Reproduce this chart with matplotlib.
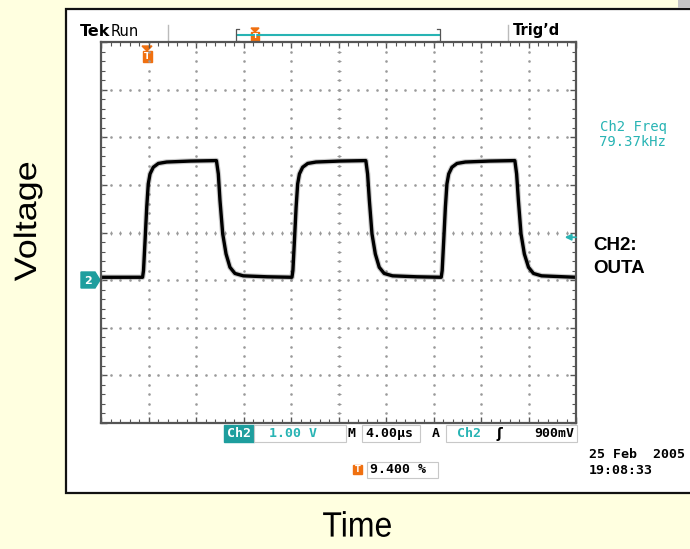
import numpy as np
from matplotlib import pyplot as plt
from matplotlib.patches import Rectangle, Polygon, PathPatch
from matplotlib.textpath import TextPath
from matplotlib.font_manager import FontProperties
from matplotlib.transforms import Affine2D

# scope settings (4 us/div, 1 V/div, 10 x 8 divisions)
t_span = 40.0

# captured trace (time in us, voltage in V)
trace_t = [0.0, 3.50, 3.58, 3.71, 3.85, 3.98, 4.13, 4.40, 4.83, 5.53, 7.50, 9.72,
           9.88, 10.02, 10.25, 10.53, 10.86, 11.28, 11.98, 14.00, 16.08,
           16.16, 16.29, 16.43, 16.56, 16.71, 16.98, 17.41, 18.11, 20.10, 22.30,
           22.45, 22.60, 22.82, 23.10, 23.43, 23.85, 24.55, 26.60, 28.65,
           28.73, 28.86, 29.00, 29.13, 29.28, 29.55, 29.98, 30.68, 32.70, 34.85,
           35.00, 35.15, 35.37, 35.65, 36.00, 36.42, 37.10, 39.00, 40.00]
trace_v = [0.06, 0.06, 0.20, 0.83, 1.53, 2.02, 2.23, 2.37, 2.45, 2.48, 2.50, 2.51,
           2.23, 1.67, 0.97, 0.55, 0.27, 0.14, 0.09, 0.07, 0.06,
           0.20, 0.83, 1.53, 2.02, 2.23, 2.37, 2.45, 2.48, 2.50, 2.51,
           2.23, 1.67, 0.97, 0.55, 0.27, 0.14, 0.09, 0.07, 0.06,
           0.20, 0.83, 1.53, 2.02, 2.23, 2.37, 2.45, 2.48, 2.50, 2.51,
           2.23, 1.67, 0.97, 0.55, 0.27, 0.14, 0.09, 0.07, 0.06]

freq_label = ["Ch2 Freq", "79.37kHz"]
ch_label = ["CH2:", "OUTA"]
date_label = ["25 Feb  2005", "19:08:33"]
volts_div = "1.00 V"
time_div = "4.00\u00b5s"
trig_level = "900mV"
trig_pos = "9.400 %"

bg = "#ffffe0"
teal = "#1e9e9e"
cyan = "#28b4b4"
orange = "#f07010"
grey = "#9a9a9a"
box_edge = "#c8c8c8"
mono = "DejaVu Sans Mono"

fig = plt.figure(figsize=(6.9, 5.49), dpi=100, facecolor=bg)

# overlay in pixel coordinates for frame and labels
ov = fig.add_axes([0, 0, 1, 1])
ov.set_xlim(0, 690)
ov.set_ylim(549, 0)
ov.axis("off")
ov.add_patch(Rectangle((66, 9), 640, 484, facecolor="white", edgecolor="#111111", lw=1.6))
ov.add_patch(Rectangle((678, -2), 14, 10, facecolor="#c4c4c4", edgecolor="none"))


def slide_text(x, y, s, em, sy, vertical=False):
    # the slide picture is a little stretched vertically, so draw the text as a path
    tp = TextPath((0, 0), s, size=em, prop=FontProperties(family="Liberation Sans"))
    bb = tp.get_extents()
    tr = Affine2D().translate(-(bb.x0 + bb.x1) / 2, -(bb.y0 + bb.y1) / 2).scale(1, -1)
    if vertical:
        tr = tr.rotate_deg(-90)
    tr = tr.scale(1, sy).translate(x, y)
    ov.add_patch(PathPatch(tr.transform_path(tp), facecolor="black", edgecolor="none"))


def scope_text(x, y, s, color="black", ha="left", size=9.5, weight="bold"):
    ov.text(x, y, s, color=color, fontsize=size, fontweight=weight, ha=ha, va="center",
            family=mono)


ov.text(80, 31, "Tek", fontsize=11.5, fontweight="bold", va="center", family="DejaVu Sans")
ov.text(111, 31, "Run", fontsize=10.5, va="center", family="DejaVu Sans")
ov.plot([168, 168], [25, 41], color="#bbbbbb", lw=1)
ov.plot([508, 508], [25, 41], color="#bbbbbb", lw=1)
ov.text(513, 31, "Trig\u2019d", fontsize=10.5, fontweight="bold", va="center", family="DejaVu Sans")

# record bar at the top
ov.plot([237, 439], [35, 35], color=cyan, lw=1.5)
ov.plot([239, 236, 236, 239], [29, 29, 41, 41], color="#555555", lw=0.9)
ov.plot([437, 440, 440, 437], [29, 29, 41, 41], color="#555555", lw=0.9)


def t_marker(x, y, s=1.0, arrow=True):
    if arrow:
        ov.add_patch(Polygon([[x - 5 * s, y - 10 * s], [x + 5 * s, y - 10 * s], [x, y - 5 * s]],
                             closed=True, color=orange))
    ov.add_patch(Rectangle((x - 4.5 * s, y - 5 * s), 9 * s, 11 * s, color=orange))
    ov.text(x, y + 0.5 * s, "T", color="white", fontsize=6.5 * s, fontweight="bold",
            ha="center", va="center")


t_marker(255, 36, 0.8)
t_marker(147, 56)

# ground marker for channel 2
ov.add_patch(Polygon([[81, 272], [95, 272], [100, 280], [95, 288], [81, 288]],
                     closed=True, color=teal))
ov.text(88, 280.5, "2", color="white", fontsize=8, fontweight="bold", ha="center", va="center")

scope_text(634, 127, freq_label[0], color=cyan, ha="center", size=10, weight="normal")
scope_text(632, 142, freq_label[1], color=cyan, ha="center", size=10, weight="normal")
ov.text(593, 245.5, ch_label[0], fontsize=13.5, fontweight="bold", va="center",
        family="Liberation Sans")
ov.text(593, 268.5, ch_label[1], fontsize=13.5, fontweight="bold", va="center",
        family="Liberation Sans")

# readouts under the graticule
ov.add_patch(Rectangle((224, 425), 30, 17, color=teal))
scope_text(239, 433.5, "Ch2", color="white", ha="center")
ov.add_patch(Rectangle((254, 425), 92, 17, facecolor="white", edgecolor=box_edge, lw=0.8))
scope_text(293, 433.5, volts_div, color=cyan, ha="center")
scope_text(348, 433.5, "M")
ov.add_patch(Rectangle((362, 425), 58, 17, facecolor="white", edgecolor=box_edge, lw=0.8))
scope_text(365, 433.5, time_div)
scope_text(432, 433.5, "A")
ov.add_patch(Rectangle((446, 425), 131, 17, facecolor="white", edgecolor=box_edge, lw=0.8))
scope_text(457, 433.5, "Ch2", color=cyan)
ov.text(497, 434, "\u0283", fontsize=10, fontweight="bold", va="center")
scope_text(574, 433.5, trig_level, ha="right")

t_marker(357.5, 469, 0.9, arrow=False)
ov.add_patch(Rectangle((367, 462), 71, 16, facecolor="white", edgecolor=box_edge, lw=0.8))
scope_text(370, 469.5, trig_pos)
scope_text(589, 455, date_label[0])
scope_text(589, 470, date_label[1])

slide_text(357, 524, "Time", 32, 1.1)
slide_text(28, 222, "Voltage", 31, 1.16, vertical=True)

# graticule
ax = fig.add_axes([101 / 690, 1 - 423 / 549, 475 / 690, 381 / 549])
ax.set_facecolor("none")
ax.set_xlim(0, t_span)
ax.set_ylim(-3, 5)
div_x = t_span / 10
ax.set_xticks(np.arange(0, t_span + 0.1, div_x))
ax.set_xticks(np.arange(0, t_span + 0.1, div_x / 5), minor=True)
ax.set_yticks(np.arange(-3, 5.1, 1))
ax.set_yticks(np.arange(-3, 5.1, 0.2), minor=True)
ax.tick_params(which="both", direction="in", top=True, right=True,
               labelbottom=False, labelleft=False, color="#555555")
ax.tick_params(which="major", length=4, width=1)
ax.tick_params(which="minor", length=3, width=0.8)
for s in ax.spines.values():
    s.set_color("#555555")
    s.set_linewidth(1.6)

dots_x = np.arange(0, t_span + 0.01, div_x / 5)
dots_y = np.arange(-3, 5.01, 0.2)
for yv in range(-2, 5):
    ax.plot(dots_x, np.full_like(dots_x, yv), ls="none", marker="s", ms=0.8, color=grey)
for k in range(1, 10):
    ax.plot(np.full_like(dots_y, k * div_x), dots_y, ls="none", marker="s", ms=0.8, color=grey)
# centre cross with minor ticks
ax.plot(dots_x, np.full_like(dots_x, 1.0), ls="none", marker="|", ms=2.5, mew=0.7, color=grey)
ax.plot(np.full_like(dots_y, 5 * div_x), dots_y, ls="none", marker="_", ms=2.5, mew=0.7, color=grey)

# trigger level arrow on the right edge
ax.annotate("", xy=(t_span - 0.95, 0.9), xytext=(t_span, 0.9),
            arrowprops=dict(arrowstyle="-|>", color=cyan, lw=1.3, mutation_scale=9,
                            shrinkA=0, shrinkB=0))

ax.plot(trace_t, trace_v, color="#555555", lw=4.0, alpha=0.3)
ax.plot(trace_t, trace_v, color="black", lw=2.4, solid_joinstyle="round")

fig.savefig("out.png", dpi=100, facecolor=bg)
